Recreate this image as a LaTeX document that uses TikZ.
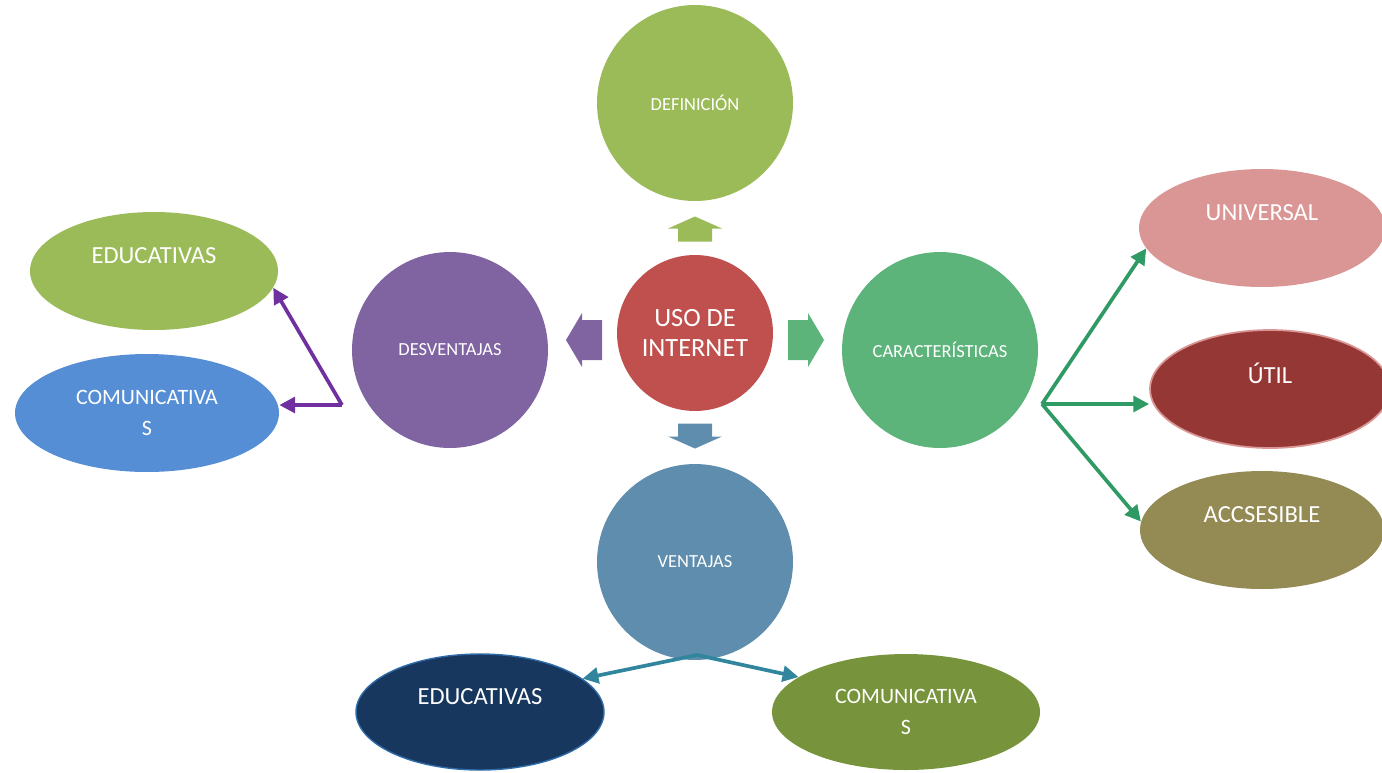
\documentclass[tikz,border=0pt]{standalone}
\usepackage{fontspec}
\setmainfont{Carlito}
\usepackage{xcolor}
\usetikzlibrary{arrows.meta, shapes.geometric}

\definecolor{DefGreen}{HTML}{9BBB59}
\definecolor{UsoRed}{HTML}{C0504D}
\definecolor{DesPurple}{HTML}{8064A2}
\definecolor{CarGreen}{HTML}{5DB47B}
\definecolor{VenBlue}{HTML}{5F8DAD}
\definecolor{ComBlue}{HTML}{558ED5}
\definecolor{UniPink}{HTML}{D99694}
\definecolor{UtilRed}{HTML}{953735}
\definecolor{AccOlive}{HTML}{948A54}
\definecolor{EduNavy}{HTML}{17375E}
\definecolor{EduEdge}{HTML}{2E6BA8}
\definecolor{ComOlive}{HTML}{77933C}
\definecolor{LinkPurple}{HTML}{7030A0}
\definecolor{LinkGreen}{HTML}{2F9A64}
\definecolor{LinkTeal}{HTML}{31859C}

\begin{document}
\begin{tikzpicture}[x=0.02cm, y=-0.02cm,
        bubble/.style={circle, minimum size=3.92cm, inner sep=0pt, text=white, align=center, font=\fontsize{10.5}{12}\selectfont},
        oval/.style={ellipse, minimum height=2.36cm, inner sep=0pt, text=white, align=center, font=\fontsize{14}{17.5}\selectfont},
        toptext/.style={text depth=0.62cm},
        twoline/.style={font=\fontsize{12.5}{17.5}\selectfont},
        link/.style={line width=2.1pt, -{Triangle[length=9pt, width=9pt]}},
        pics/blockarrow/.style n args={4}{code={
            \fill (-#1/2,-#4) -- (#1/2-#2,-#4) -- (#1/2-#2,-#3) -- (#1/2,0) -- (#1/2-#2,#3) -- (#1/2-#2,#4) -- (-#1/2,#4) -- cycle;
        }}]
        \useasboundingbox (0,0) rectangle (1382,772);

        % centre and the four branches
        \node (uso) at (695,333)[circle, fill=UsoRed, minimum size=3.12cm, inner sep=0pt, text=white, align=center, font=\fontsize{15}{17}\selectfont] {USO DE\\INTERNET};

        \node (def) at (695,103)[bubble, fill=DefGreen] {DEFINICIÓN};
        \node (desv) at (450,350)[bubble, fill=DesPurple] {DESVENTAJAS};
        \node (car) at (940,350)[bubble, fill=CarGreen] {CARACTERÍSTICAS};
        \node (vent) at (695,562)[bubble, fill=VenBlue] {VENTAJAS};

        \pic[DefGreen, rotate=90] at (695,229) {blockarrow={25}{12}{27}{17}};
        \pic[VenBlue, rotate=-90] at (695,436) {blockarrow={25}{12}{27}{17}};
        \pic[DesPurple, rotate=180] at (584,340) {blockarrow={36}{16}{27}{20}};
        \pic[CarGreen] at (806,340) {blockarrow={36}{16}{27}{20}};

        % desventajas
        \node (eduL) at (154,271)[oval, toptext, fill=DefGreen, minimum width=4.96cm] {EDUCATIVAS};
        \node (comL) at (147,413)[oval, twoline, fill=ComBlue, minimum width=5.28cm] {COMUNICATIVA\\S};

        \coordinate (pj) at (342,405);
        \draw[link, LinkPurple] (pj) -- (eduL.-8);
        \draw[link, LinkPurple] (pj) -- (pj -| comL.east);

        % caracteristicas
        \node (univ) at (1262,228)[oval, toptext, fill=UniPink, minimum width=4.92cm] {UNIVERSAL};
        \node (util) at (1270,389)[oval, toptext, fill=UtilRed, draw=UniPink, line width=1pt, minimum width=4.8cm] {ÚTIL};
        \node (acc) at (1262,530)[oval, toptext, fill=AccOlive, minimum width=4.88cm] {ACCSESIBLE};

        \coordinate (gj) at (1042,404);
        \draw[link, LinkGreen] (gj) -- (univ.190);
        \draw[link, LinkGreen] (gj) -- (gj -| util.west);
        \draw[link, LinkGreen] (gj) -- (acc.176);

        % ventajas
        \node (eduB) at (480,712)[oval, toptext, fill=EduNavy, draw=EduEdge, line width=0.8pt, minimum width=4.96cm, minimum height=2.32cm] {EDUCATIVAS};
        \node (comB) at (906,712)[oval, twoline, fill=ComOlive, minimum width=5.36cm, minimum height=2.32cm] {COMUNICATIVA\\S};

        \coordinate (vj) at (697,655);
        \draw[link, LinkTeal] (vj) -- (eduB.18);
        \draw[link, LinkTeal] (vj) -- (comB.162);
    \end{tikzpicture}
\end{document}
